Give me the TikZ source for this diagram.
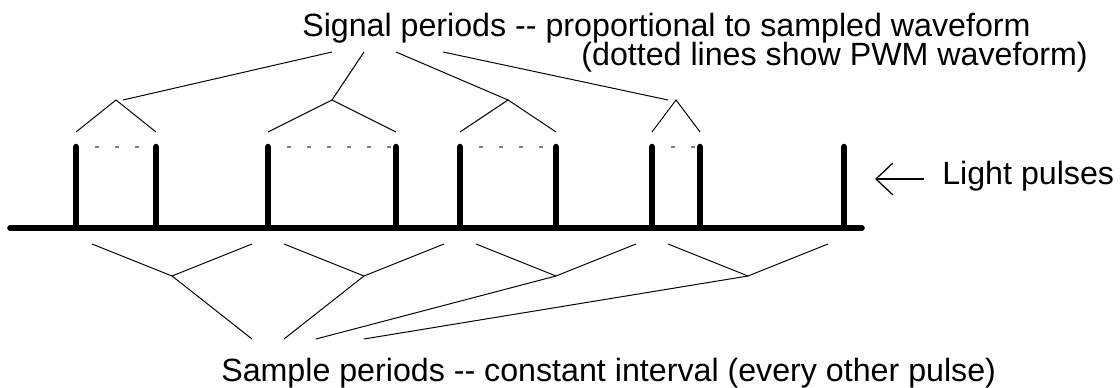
\documentclass[tikz,border=0pt]{standalone}
\usepackage{fontspec}
\setmainfont{Liberation Sans}[Ligatures=TeXOff]
\usetikzlibrary{arrows.meta,calc}

\begin{document}
\begin{tikzpicture}[x=0.25mm, y=0.25mm,
		pulse/.style={line width=4.6pt, line cap=round},
		leader/.style={line width=0.7pt},
		pwm/.style={gray, line width=1pt, dash pattern=on 1mm off 4mm, dash phase=0.25mm},
		txt/.style={inner sep=0pt, anchor=base west, font=\fontsize{22.9}{27}\selectfont}]
		\useasboundingbox (0,0) rectangle (1120,388);

		%time axis and pulses
		\coordinate (axstart) at (10,160);
		\coordinate (axend) at (862,160);
		\foreach \n/\x in {1/76, 2/156, 3/268, 4/396, 5/460, 6/556, 7/652, 8/700, 9/844}{
			\coordinate (p\n) at (\x,160);
			\coordinate (t\n) at (\x,241);
		}
		%pwm dots
		\foreach \a/\b in {1/2, 3/4, 5/6, 7/8}
			\draw [pwm] (t\a) -- (t\b);
		\draw [line width=4pt, line cap=round] (axstart) -- (axend);
		\foreach \n in {1,...,9}
			\draw [pulse] (p\n) -- (t\n);

		%signal periods
		\foreach \a/\b/\i in {1/2/1, 3/4/2, 5/6/3, 7/8/4}{
			\coordinate (sig\i) at ($(p\a)!0.5!(p\b)+(0,128)$);
			\draw [leader] ($(p\a)+(0,96)$) -- (sig\i) -- ($(p\b)+(0,96)$);
		}
		\coordinate (st1) at (332,336);
		\coordinate (st2) at (364,336);
		\coordinate (st3) at (396,336);
		\coordinate (st4) at (443,336);
		\draw [leader] ($(sig1)+(7,0)$) -- (st1);
		\draw [leader] (sig2) -- (st2);
		\draw [leader] (sig3) -- (st3);
		\draw [leader] ($(sig4)+(-8,0)$) -- (st4);

		%sample periods
		\foreach \a/\b/\i in {1/3/1, 3/5/2, 5/7/3, 7/9/4}{
			\coordinate (smp\i) at ($(p\a)!0.5!(p\b)+(0,-48)$);
			\draw [leader] ($(p\a)+(16,-16)$) -- (smp\i) -- ($(p\b)+(-16,-16)$);
		}
		\coordinate (sb1) at (252,49);
		\coordinate (sb2) at (284,49);
		\coordinate (sb3) at (316,49);
		\coordinate (sb4) at (364,49);
		\foreach \i in {1,...,4}
			\draw [leader] (smp\i) -- (sb\i);

		%labels
		\node [txt] (signal) at (302,351) {Signal periods -- proportional to sampled waveform};
		\node [txt, anchor=base east] (pwmnote) at (1088,322) {(dotted lines show PWM waveform)};
		\node [txt] (sample) at (221,6) {Sample periods -- constant interval (every other pulse)};
		\node [txt] (light) at (942,203) {Light pulses};
		\coordinate (arrtail) at (924,209);
		\coordinate (arrhead) at (875,209);
		\draw [line width=0.9pt, -{Straight Barb[length=4.2mm, width=7.9mm]}] (arrtail) -- (arrhead);
	\end{tikzpicture}
\end{document}
